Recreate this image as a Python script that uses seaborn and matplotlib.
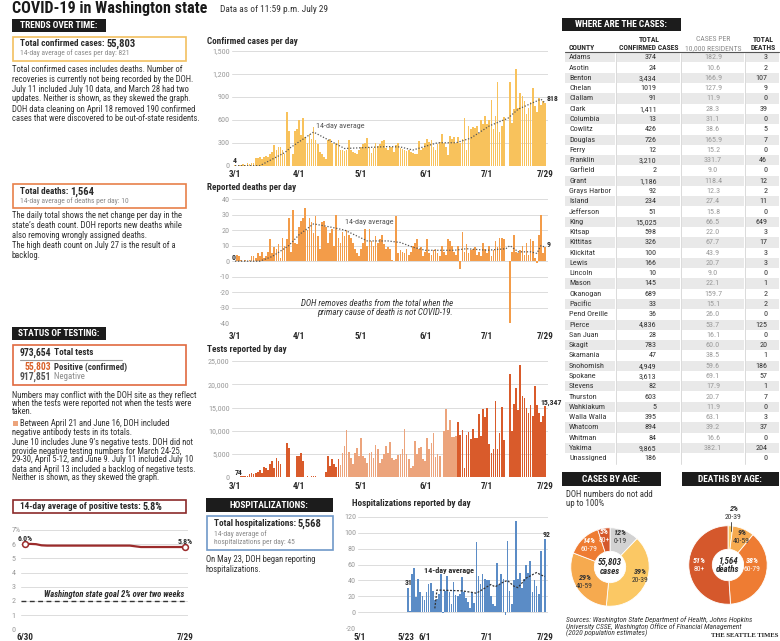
import numpy as np
import pandas as pd
import matplotlib
matplotlib.use("Agg")
import matplotlib.pyplot as plt
import seaborn as sns
from matplotlib.patches import Rectangle
from matplotlib import font_manager as fm

nan = np.nan

# ---------------- daily series 3/1 - 7/29 ----------------
cases_mar = [4, 2, 8, 12, 25, 10, 30, 20, 35, 40,
             100, 95, 110, 90, 120, 130, 110, 150,
             180, 270, 200, 240, 250, 210, 150,
             700, 450, nan, 150, 460, 480]
cases_apr = [600, 400, 620, 380, 300, 420, 350, 510, 330, 290,
             180, 150, 120, 90, 330, 350, 300, nan, 300, 330,
             200, 210, 190, 200, 340, 200, 180, 160, 150, 210]
cases_may = [240, 280, 300, 360, 250, 170, 230, 300, 260, 280,
             320, 330, 230, 200, 250, 240, 180, 270, 300, 230,
             220, 200, 190, 210, 180, 170, 150, 150, 320, 210, 230]
cases_jun = [300, 350, 310, 340, 250, 200, 280, 310, 420, 300,
             250, 140, 390, 350, 370, 300, 380, 300, 350, 620,
             200, 520, 480, 500, 490, 520, 430, 600, 540, 650]
cases_jul = [550, 600, 860, 480, 650, 1090, 440, 520, 640,
             nan, nan,
             1100, 560, 740, 1260, 760, 950, 910, 840, 670, 760, 830, 1020,
             780, 700, 880, 790, 840, 818]
cases_avg_dates = ["3/1", "3/13", "3/25", "3/28", "4/8", "4/23", "5/14", "5/20",
                   "5/26", "6/7", "6/16", "6/23", "7/2", "7/11", "7/16", "7/27", "7/29"]
cases_avg_vals = [0, 0, 170, 240, 440, 225, 250, 245, 205, 300, 300, 360, 520,
                  620, 740, 870, 818]

deaths_mar = [0, 4, 3, 1, 0, 1, 0, 1, 3, 3,
              2, 5, 3, 6, 2, 3, 6, 14, 5, 9,
              8, 11, 2, 15, 10, 14, 28, 6, 33, 12, 11]
deaths_apr = [22, 26, 28, 34, 20, 28, 25, 18, 29, 16,
              8, 25, 26, 22, 12, 18, 21, 10, 30, 15,
              12, 19, 16, 20, 17, 15, 12, 8, 5, 3]
deaths_may = [8, 12, 21, 10, 21, 13, 10, 16, 12, 14,
              17, 11, 8, 9, 8, 1, 0, 29, 5, 7,
              6, 5, 8, 4, 6, 10, 12, 14, 8, 9, 3]
deaths_jun = [6, 14, 5, 4, 7, 8, 5, 3, 10, 6,
              4, 14, 13, 10, 6, 4, 10, -5, 19, 6,
              11, 5, 7, 8, 9, 4, 6, 3, 12, 8]
deaths_jul = [5, 10, 3, 7, 13, 9, 15, 15, 14,
              nan, nan,
              -40, 6, 17, 6, 5, 7, 10, 4, 12, 4, 14, 13, 2, -1, 17, 30, 5, 9]
deaths_avg_dates = ["3/1", "3/13", "3/19", "3/27", "4/1", "4/8", "4/16", "4/23",
                    "5/4", "5/14", "5/20", "5/26", "6/1", "6/15", "6/21", "7/1",
                    "7/10", "7/12", "7/16", "7/22", "7/25", "7/27", "7/29"]
deaths_avg_vals = [0, 0, 3, 10, 17, 24, 22, 20, 13, 13, 12, 9, 7, 7, 8, 7, 8, 10,
                   6, 6, 5, 10, 9]

tests_mar = [74, 100, 150, 250, 300, 350, 300, 700, 900, 800,
             1000, 1200, 1600, 1000, 2300, 2000, 1500, 2800, 3500, 2000,
             4100, 3600, 2900, nan, nan, 7400, 6300, nan, nan, nan, 4500]
tests_apr = [4500, 5300, 3400, 150, 200, 150, 250, 300, 200, 150,
             nan, nan, nan, 1200, 4500, 2500, 4000, 2800, 2300, 4000,
             2600, 5300, 6800, 10200, 5500, 4200, 2800, 5200, 6400, 4600]
tests_may = [8500, 4600, 4200, 3000, 5200, 5500, 4200, 7000, 6000, 3000,
             4000, 5000, 6800, 5200, 7600, 4200, 3800, 4000, 4800, 5000,
             6000, 10300, 5000, 4000, 2000, 2500, 7700, 5000, 6300, 6600, 4000]
tests_jun = [3400, 8500, 6100, 7300, 9600, 4400, 5100, 4600, nan, 10000,
             14600, 10200, 12400, 8700, 8700, 8800, 11800, 9000, 10100, 2000,
             9000, 9800, 8300, 10300, 8500, 8400, 13700, 8800, 14700, 12900]
tests_jul = [15000, 7200, 5300, 6000, 16500, 6100, 9500, 15200, 8000,
             nan, nan,
             22200, 10000, 15700, 19200, 14400, 24100, 17500, 17000, 14900,
             13900, 15600, 13100, 19700, 15600, 13900, 11900, 13100, 15347]
antibody_period = ("4/21", "6/16")

# hospitalizations 5/24 - 7/29
hosp_may = [31, 2, 48, 56, 19, 42, 25, 21]
hosp_jun = [16, 26, 35, 37, 27, 15, 17, 23, 48, -1,
            27, 45, 26, 11, 38, 22, 21, 23, 44, 26,
            18, 13, 5, 25, 12, 88, 46, 35, 48, 42]
hosp_jul = [41, 40, 21, 10, 8, 62, 34, 48, 42, -3,
            89, 27, 10, 41, 115, 42, 49, 30, 42, 59,
            50, 65, 25, 40, 33, 23, 77, 1, 92]
hosp_avg_dates = ["6/6", "6/7", "6/19", "6/24", "6/26", "7/3", "7/5", "7/9",
                  "7/11", "7/14", "7/16", "7/20", "7/25", "7/27", "7/29"]
hosp_avg_vals = [5, 28, 27, 25, 24, 35, 32, 38, 40, 33, 31, 43, 50, 47, 45]

# positivity 6/30 - 7/29
positivity = [6.0, 6.02, 6.0, 5.92] + [5.9] * 16 + [5.85] + [5.8] * 9

# county table
counties = ["Adams", "Asotin", "Benton", "Chelan", "Clallam", "Clark", "Columbia",
            "Cowlitz", "Douglas", "Ferry", "Franklin", "Garfield", "Grant",
            "Grays Harbor", "Island", "Jefferson", "King", "Kitsap", "Kittitas",
            "Klickitat", "Lewis", "Lincoln", "Mason", "Okanogan", "Pacific",
            "Pend Oreille", "Pierce", "San Juan", "Skagit", "Skamania", "Snohomish",
            "Spokane", "Stevens", "Thurston", "Wahkiakum", "Walla Walla", "Whatcom",
            "Whitman", "Yakima", "Unassigned"]
county_cases = ["374", "24", "3,434", "1019", "91", "1,411", "13", "426", "726", "12",
                "3,210", "2", "1,186", "92", "234", "51", "15,025", "598", "326", "100",
                "166", "10", "145", "689", "33", "36", "4,836", "28", "783", "47",
                "4,949", "3,613", "82", "603", "5", "395", "894", "84", "9,865", "186"]
county_per10k = ["182.9", "10.6", "166.9", "127.9", "11.9", "28.3", "31.1", "38.6",
                 "165.9", "15.2", "331.7", "9.0", "118.4", "12.3", "27.4", "15.8",
                 "66.5", "22.0", "67.7", "43.9", "20.7", "9.0", "22.1", "159.7", "15.1",
                 "26.0", "53.7", "16.1", "60.0", "38.5", "59.6", "69.1", "17.9", "20.7",
                 "11.9", "63.1", "39.2", "16.6", "382.1", ""]
county_deaths = [3, 2, 107, 9, 0, 39, 0, 5, 7, 0, 46, 0, 12, 2, 11, 0, 649, 3, 17, 3,
                 3, 0, 1, 2, 2, 0, 125, 0, 20, 1, 186, 57, 1, 7, 0, 3, 37, 0, 204, 0]

# age donuts
case_age_labels = ["0-19", "20-39", "40-59", "60-79", "80+"]
case_age_pct = [12, 39, 29, 14, 5]
death_age_labels = ["20-39", "40-59", "60-79", "80+"]
death_age_pct = [2, 9, 38, 51]

# ---------------- styling ----------------
sns.set_theme(style="white")

# prefer a narrow face if one is installed
FAM, STRETCH = "Lato", "normal"
_entries = fm.fontManager.ttflist
for nm in ["Liberation Sans Narrow", "Roboto Condensed", "Open Sans Condensed",
           "Noto Sans", "Open Sans"]:
    st = [f.stretch for f in _entries if f.name == nm]
    if nm in ("Liberation Sans Narrow", "Roboto Condensed", "Open Sans Condensed") and st:
        FAM, STRETCH = nm, "normal"
        break
    if "semi-condensed" in st:
        FAM, STRETCH = nm, "semi-condensed"
        break
    if "condensed" in st:
        FAM, STRETCH = nm, "condensed"
        break
plt.rcParams["font.family"] = [FAM, "DejaVu Sans"]
plt.rcParams["font.stretch"] = STRETCH

YEL = "#f8c25c"
ORG = "#f39c49"
TST = "#d95b2b"
TST_L = "#eca47c"
BLU = "#5b8cc6"
RED = "#9b2b2b"
DARK = "#2a2a2a"
GRAY = "#8a8a8a"

W, H = 780, 641
fig = plt.figure(figsize=(7.8, 6.41), dpi=100)
fig.patch.set_facecolor("white")
renderer = fig.canvas.get_renderer()

# calibrate type size so that text widths match the reference layout
_t = fig.text(0, 0, "Total confirmed cases includes deaths. Number of", fontsize=6.2)
SC = 170.0 / _t.get_window_extent(renderer).width
_t.remove()
_t = fig.text(0, 0, "COVID-19 in Washington state", fontsize=11.6, fontweight="bold")
TITLE_SIZE = 11.6 * 196.0 / _t.get_window_extent(renderer).width
_t.remove()


def fs(v):
    return v * SC


def px_axes(x0, y0, x1, y1, **kw):
    return fig.add_axes([x0 / W, 1 - y1 / H, (x1 - x0) / W, (y1 - y0) / H], **kw)


def didx(md, start="2020-03-01"):
    m, d = md.split("/")
    return (pd.Timestamp(2020, int(m), int(d)) - pd.Timestamp(start)).days


def style_chart(ax, xlim, ylim, yticks, ylabels, xticks, xlabels, xpad):
    ax.set_xlim(*xlim)
    ax.set_ylim(*ylim)
    ax.set_yticks(yticks)
    ax.set_yticklabels(ylabels, color="#9a9a9a", fontsize=fs(5.9))
    ax.set_xticks(xticks)
    ax.set_xticklabels(xlabels, fontsize=fs(6.6), fontweight="bold", color=DARK)
    ax.tick_params(axis="both", length=0)
    ax.tick_params(axis="y", pad=1.5)
    ax.tick_params(axis="x", pad=xpad)
    ax.grid(axis="y", color="#dcdcdc", lw=0.7)
    ax.grid(axis="x", visible=False)
    ax.set_axisbelow(True)
    for s in ax.spines.values():
        s.set_visible(False)
    ax.set_xlabel("")
    ax.set_ylabel("")
    ax.patch.set_alpha(0)


BAR = dict(native_scale=True, saturation=1, width=0.82, errorbar=None, linewidth=0,
           edgecolor="none", antialiased=False)

dates = pd.date_range("2020-03-01", "2020-07-29")
day = np.arange(len(dates))
date_ticks = [didx(s) for s in ["3/1", "4/1", "5/1", "6/1", "7/1", "7/29"]]
date_labels = ["3/1", "4/1", "5/1", "6/1", "7/1", "7/29"]
XL = (-1.6, 151.4)

cases = cases_mar + cases_apr + cases_may + cases_jun + cases_jul
deaths = deaths_mar + deaths_apr + deaths_may + deaths_jun + deaths_jul
tests = tests_mar + tests_apr + tests_may + tests_jun + tests_jul

# ---------- cases chart ----------
ax = px_axes(231.7, 51, 548, 165.7)
sns.barplot(x=day, y=cases, color=YEL, ax=ax, **BAR)
sns.lineplot(x=[didx(s) for s in cases_avg_dates], y=cases_avg_vals, ax=ax,
             color="#555555", lw=0.9, linestyle=(0, (1, 1.4)))
style_chart(ax, XL, (0, 1500), range(0, 1501, 300),
            ["0", "300", "600", "900", "1,200", "1,500"], date_ticks, date_labels, 3.2)
ax.text(0, 25, "4", ha="center", va="bottom", fontsize=fs(5.6), fontweight="bold", color=DARK)
ax.text(150.6, 880, "818", ha="left", va="center", fontsize=fs(5.6), fontweight="bold",
        color=DARK)
ax.text(39.3, 520, "14-day average", ha="left", va="center", fontsize=fs(5.9),
        color="#555555")

# ---------- deaths chart ----------
ax = px_axes(231.7, 199, 548, 323.3)
sns.barplot(x=day, y=deaths, color=ORG, ax=ax, **BAR)
sns.lineplot(x=[didx(s) for s in deaths_avg_dates], y=deaths_avg_vals, ax=ax,
             color="#555555", lw=0.9, linestyle=(0, (1, 1.4)))
style_chart(ax, XL, (-40, 40), range(-40, 41, 10),
            [str(v) for v in range(-40, 41, 10)], date_ticks, date_labels, 6)
ax.text(-0.6, 2.5, "0", ha="center", va="center", fontsize=fs(5.6), fontweight="bold",
        color=DARK)
ax.text(150.6, 11, "9", ha="left", va="center", fontsize=fs(5.6), fontweight="bold",
        color=DARK)
ax.text(53, 25.5, "14-day average", ha="left", va="center", fontsize=fs(5.9),
        color="#555555")

# ---------- tests chart ----------
ax = px_axes(231.7, 361, 548, 477.3)
a0, a1 = didx(antibody_period[0]), didx(antibody_period[1])
period = ["light" if a0 <= d <= a1 else "dark" for d in day]
sns.barplot(x=day, y=tests, hue=period, palette={"light": TST_L, "dark": TST},
            dodge=False, legend=False, ax=ax, **BAR)
style_chart(ax, XL, (0, 25000), range(0, 25001, 5000),
            ["0", "5,000", "10,000", "15,000", "20,000", "25,000"],
            date_ticks, date_labels, 3.2)
ax.text(-0.3, 300, "74", ha="left", va="bottom", fontsize=fs(5.6), fontweight="bold",
        color=DARK)
ax.text(147.6, 16100, "15,347", ha="left", va="center", fontsize=fs(5.6),
        fontweight="bold", color=DARK)

# ---------- hospitalizations chart ----------
hosp = hosp_may + hosp_jun + hosp_jul
hday = np.arange(didx("5/24", "2020-05-01"), didx("7/29", "2020-05-01") + 1)
ax = px_axes(358, 516.7, 548, 628.3)
sns.barplot(x=hday, y=hosp, color=BLU, ax=ax, **BAR)
sns.lineplot(x=[didx(s, "2020-05-01") for s in hosp_avg_dates], y=hosp_avg_vals, ax=ax,
             color="#333333", lw=0.9, linestyle=(0, (1.6, 1.2)))
style_chart(ax, (-1, 90.5), (-20, 120), range(-20, 121, 20),
            [str(v) for v in range(-20, 121, 20)],
            [didx(s, "2020-05-01") for s in ["5/1", "5/23", "6/1", "7/1", "7/29"]],
            ["5/1", "5/23", "6/1", "7/1", "7/29"], 3.2)
ax.text(23.4, 37, "31", ha="center", va="center", fontsize=fs(5.6), fontweight="bold",
        color=DARK)
ax.text(89.6, 98, "92", ha="center", va="center", fontsize=fs(5.6), fontweight="bold",
        color=DARK)
ax.text(42.7, 52, "14-day average", ha="center", va="center", fontsize=fs(5.9),
        fontweight="bold", color=DARK)

# ---------- positivity chart ----------
ax = px_axes(20.7, 530, 188.3, 629.3)
pday = np.arange(len(positivity))
sns.lineplot(x=pday, y=positivity, ax=ax, color=RED, lw=1.6)
ax.plot([pday[0], pday[-1]], [positivity[0], positivity[-1]], "o", ms=4.2,
        mfc="white", mec=RED, mew=1.1, clip_on=False)
style_chart(ax, (-0.78, 29.6), (0, 7), range(0, 8),
            ["0", "1", "2", "3", "4", "5", "6", "7%"], [0, 29], ["6/30", "7/29"], 3.0)
for lbl in ax.get_yticklabels():
    lbl.set_ha("left")
ax.tick_params(axis="y", pad=6.5)
ax.axhline(2, color="#333333", lw=1.0, ls=(0, (3.5, 2.5)))
ax.text(0, 6.38, "6.0%", ha="center", va="center", fontsize=fs(5.6), fontweight="bold",
        color=DARK)
ax.text(29, 6.2, "5.8%", ha="center", va="center", fontsize=fs(5.6), fontweight="bold",
        color=DARK)
ax.text(28.9, 2.42, "Washington state goal 2% over two weeks", ha="right", va="center",
        fontsize=fs(6.2), fontweight="bold", style="italic", color=DARK)

# ---------- donuts ----------
case_cols = ["#d2d2d2", "#fbc864", "#f6aa4f", "#ee7c33", "#d5582c"]
death_cols = ["#fbc864", "#f6aa4f", "#ee7c33", "#d5582c"]
ax = px_axes(570, 527, 650, 607)
ax.pie(case_age_pct, colors=case_cols, startangle=90, counterclock=False,
       wedgeprops=dict(width=0.6, edgecolor="white", linewidth=0.6))
ax.set_xlim(-1.02, 1.02)
ax.set_ylim(-1.02, 1.02)
ax = px_axes(688, 525, 768, 605)
ax.pie(death_age_pct, colors=death_cols, startangle=90, counterclock=False,
       wedgeprops=dict(width=0.6, edgecolor="white", linewidth=0.6))
ax.set_xlim(-1.02, 1.02)
ax.set_ylim(-1.02, 1.02)

# ---------- overlay: text, boxes, table ----------
ov = fig.add_axes([0, 0, 1, 1], zorder=10)
ov.set_xlim(0, W)
ov.set_ylim(H, 0)
ov.axis("off")
ov.patch.set_visible(False)


def T(x, y, s, size=6.2, color=DARK, weight="normal", ha="left", va="center",
      style="normal", family=None, raw=False):
    kw = {}
    if family:
        kw["family"] = family
    return ov.text(x, y, s, fontsize=size if raw else fs(size), color=color,
                   fontweight=weight, ha=ha, va=va, style=style, **kw)


def runs(x, y, parts):
    cur = x
    for s, kw in parts:
        t = T(cur, y, s, **kw)
        bb = t.get_window_extent(renderer)
        cur = ov.transData.inverted().transform((bb.x1, bb.y0))[0]


def box(x0, y0, x1, y1, ec, lw=1.2, fc="none"):
    ov.add_patch(Rectangle((x0, y0), x1 - x0, y1 - y0, ec=ec, fc=fc, lw=lw))


def header(x0, y0, x1, y1, s):
    box(x0, y0, x1, y1, ec="none", fc="#1c1c1c", lw=0)
    T((x0 + x1) / 2, (y0 + y1) / 2 + 0.3, s, size=6.8, color="white", weight="bold",
      ha="center")


BODY = "#333333"
T(12, 9, "COVID-19 in Washington state", size=TITLE_SIZE, weight="bold",
  color="#1a1a1a", raw=True)
T(220, 10, "Data as of 11:59 p.m. July 29", size=6.8, color=BODY)

# trends
header(12, 19, 106, 32, "TRENDS OVER TIME:")
box(12.5, 37, 186, 60.5, ec="#f2c060")
runs(20, 43.5, [("Total confirmed cases: ", dict(size=6.6, weight="bold")),
                ("55,803", dict(size=7.6, weight="bold"))])
T(20, 53, "14-day average of cases per day: 821", size=5.4, color=GRAY)
for yy, s in zip([70, 79, 89, 98.5, 109, 118.5],
                 ["Total confirmed cases includes deaths. Number of",
                  "recoveries is currently not being recorded by the DOH.",
                  "July 11 included July 10 data, and March 28 had two",
                  "updates. Neither is shown, as they skewed the graph.",
                  "DOH data cleaning on April 18 removed 190 confirmed",
                  "cases that were discovered to be out-of-state residents."]):
    T(12, yy, s, size=6.2, color=BODY)

box(12.5, 183.5, 186, 208, ec="#e8804a")
runs(20, 191.7, [("Total deaths: ", dict(size=6.6, weight="bold")),
                 ("1,564", dict(size=7.6, weight="bold"))])
T(20, 201.5, "14-day average of deaths per day: 10", size=5.4, color=GRAY)
for yy, s in zip([216, 225.5, 235, 246, 255.5],
                 ["The daily total shows the net change per day in the",
                  "state\u2019s death count. DOH reports new deaths while",
                  "also removing wrongly assigned deaths.",
                  "The high death count on July 27 is the result of a",
                  "backlog."]):
    T(12, yy, s, size=6.2, color=BODY)

# testing
header(12, 327, 106, 340, "STATUS OF TESTING:")
box(12.5, 344.5, 186, 385, ec="#e06a40")
runs(20, 352.7, [("973,654", dict(size=7.0, weight="bold")),
                 (" Total tests", dict(size=6.6, weight="bold"))])
ov.plot([20, 122], [359.5, 359.5], color="#9a9a9a", lw=0.8)
runs(25, 367.3, [("55,803", dict(size=7.0, weight="bold", color="#d9622b")),
                 (" Positive (confirmed)", dict(size=6.4, weight="bold", color=BODY))])
runs(20, 376.7, [("917,851", dict(size=7.0, weight="bold", color="#555555")),
                 (" Negative", dict(size=6.4, color=GRAY))])
ov.add_patch(Rectangle((12.5, 420.5), 5, 5, fc=TST_L, ec="none"))
for yy, x, s in zip([395, 403.5, 412, 423.3, 432.3, 442.3, 451, 460, 469, 477.7],
                    [12, 12, 12, 19.5, 12, 12, 12, 12, 12, 12],
                    ["Numbers may conflict with the DOH site as they reflect",
                     "when the tests were reported not when the tests were",
                     "taken.",
                     "Between April 21 and June 16, DOH included",
                     "negative antibody tests in its totals.",
                     "June 10 includes June 9\u2019s negative tests. DOH did not",
                     "provide negative testing numbers for March 24-25,",
                     "29-30, April 5-12, and June 9. July 11 included July 10",
                     "data and April 13 included a backlog of negative tests.",
                     "Neither is shown, as they skewed the graph."]):
    T(x, yy, s, size=6.2, color=BODY)

box(12.5, 500, 186, 513, ec="#8b2a2a")
runs(20, 506.7, [("14-day average of positive tests: ", dict(size=6.6, weight="bold")),
                 ("5.8%", dict(size=7.4, weight="bold"))])

# chart titles
T(207, 41, "Confirmed cases per day", size=6.6, weight="bold")
T(207, 187.5, "Reported deaths per day", size=6.6, weight="bold")
T(207, 349.5, "Tests reported by day", size=6.6, weight="bold")
T(352, 503.5, "Hospitalizations reported by day", size=6.6, weight="bold")
for yy, s in zip([303, 312.5], ["DOH removes deaths from the total when the",
                                "primary cause of death is not COVID-19."]):
    T(453, yy, s, size=6.4, style="italic", color=BODY, ha="right")

# hospitalizations
header(206, 498.3, 332.7, 511.7, "HOSPITALIZATIONS:")
box(206.5, 516, 332.5, 550, ec="#6f98c8")
runs(213.7, 524, [("Total hospitalizations: ", dict(size=6.6, weight="bold")),
                  ("5,568", dict(size=7.6, weight="bold"))])
T(213.7, 533.7, "14-day average of", size=5.4, color=GRAY)
T(213.7, 543, "hospitalizations per day: 45", size=5.4, color=GRAY)
T(206, 559.5, "On May 23, DOH began reporting", size=6.2, color=BODY)
T(206, 569, "hospitalizations.", size=6.2, color=BODY)

# table
header(562, 18, 680.7, 31, "WHERE ARE THE CASES:")
T(569, 47.7, "COUNTY", size=5.5, weight="bold")
T(649, 39, "TOTAL", size=5.5, weight="bold", ha="center")
T(649, 47.7, "CONFIRMED CASES", size=5.5, weight="bold", ha="center")
T(713, 39, "CASES PER", size=5.5, color=GRAY, ha="center")
T(713, 47.7, "10,000 RESIDENTS", size=5.5, color=GRAY, ha="center")
T(763.5, 39, "TOTAL", size=5.5, weight="bold", ha="center")
T(763.5, 47.7, "DEATHS", size=5.5, weight="bold", ha="center")
ov.plot([565, 779], [52.3, 52.3], color="#555555", lw=0.8)
cols = [(565, 615), (617, 680), (682, 744), (746, 779)]
for i, name in enumerate(counties):
    yy = 57.3 + i * 10.28
    if i % 2 == 0:
        for (c0, c1) in cols:
            ov.add_patch(Rectangle((c0, yy - 5), c1 - c0, 10.2, fc="#e9e9e9", ec="none"))
    T(569, yy, name, size=5.9, color=BODY)
    T(656.5, yy, county_cases[i], size=5.9, color=BODY, ha="right")
    T(713, yy, county_per10k[i], size=5.9, color="#9a9a9a", ha="center")
    T(767.3, yy, str(county_deaths[i]), size=5.9, color=BODY, ha="right")
for xx in [616, 681, 745]:
    ov.plot([xx, xx], [52.5, 463.5], color="#d4d4d4", lw=0.6)

# age sections
header(562, 472.3, 661, 485.7, "CASES BY AGE:")
header(681.7, 472.3, 779, 485.7, "DEATHS BY AGE:")
T(566, 494.3, "DOH numbers do not add", size=6.3, color=BODY)
T(566, 503.5, "up to 100%", size=6.3, color=BODY)


def plab(x, y, pct, lab, col):
    T(x, y - 4.3, f"{pct}%", size=5.9, weight="bold", style="italic", color=col, ha="center")
    T(x, y + 4.3, lab, size=5.5, color=col, ha="center")


plab(620, 537, case_age_pct[0], case_age_labels[0], BODY)
plab(640.5, 575.5, case_age_pct[1], case_age_labels[1], BODY)
plab(584.5, 582, case_age_pct[2], case_age_labels[2], BODY)
plab(588.5, 545, case_age_pct[3], case_age_labels[3], "white")
plab(604, 535.5, case_age_pct[4], case_age_labels[4], "white")
T(610, 561.5, "55,803", size=6.5, weight="bold", style="italic", ha="center")
T(610, 571, "cases", size=6.5, weight="bold", style="italic", ha="center")

plab(733.5, 513, death_age_pct[0], death_age_labels[0], BODY)
ov.plot([730.7, 730.7], [521.5, 531], color="#333333", lw=0.6)
plab(741.5, 536.5, death_age_pct[1], death_age_labels[1], BODY)
plab(752, 565, death_age_pct[2], death_age_labels[2], "white")
plab(699.5, 565, death_age_pct[3], death_age_labels[3], "white")
T(728, 560.5, "1,564", size=6.5, weight="bold", style="italic", ha="center")
T(728, 570, "deaths", size=6.5, weight="bold", style="italic", ha="center")

for yy, s in zip([620, 626.7, 633.3],
                 ["Sources: Washington State Department of Health, Johns Hopkins",
                  "University CSSE, Washington Office of Financial Management",
                  "(2020 population estimates)"]):
    T(566, yy, s, size=5.4, style="italic", color=BODY)
T(778, 635.5, "THE SEATTLE TIMES", size=4.8, weight="bold", ha="right",
  family=["Liberation Serif", "DejaVu Serif"], color="#222222", raw=True)

fig.savefig("out.png", dpi=100, facecolor="white")
